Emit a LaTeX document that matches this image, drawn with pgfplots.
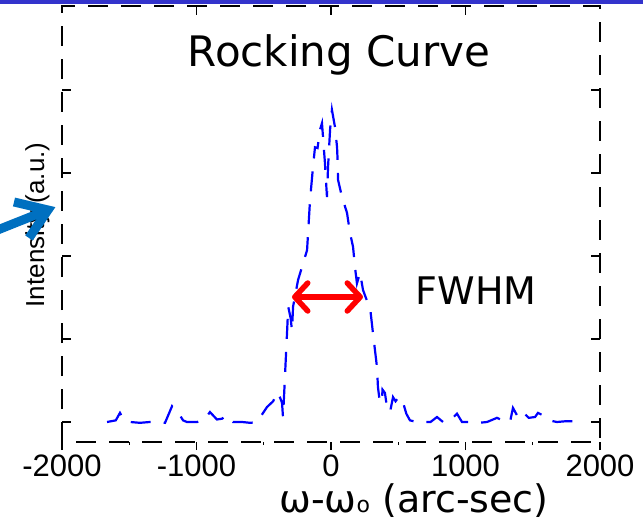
\documentclass[border=0pt]{standalone}
\usepackage{pgfplots}
\pgfplotsset{compat=1.18}
\usepackage{fontspec}
\setmainfont{DejaVu Sans}
\newfontfamily\arialfont{Liberation Sans}
\usetikzlibrary{arrows.meta}
\definecolor{barblue}{RGB}{51,51,204}
\definecolor{callout}{RGB}{0,112,192}
\begin{document}
\begin{tikzpicture}
\path[use as bounding box] (0,0) rectangle (643pt,531pt);
\fill[barblue] (0,527pt) rectangle (643pt,531pt);
\begin{axis}[
  at={(62pt,89pt)}, anchor=south west, scale only axis,
  width=538pt, height=436pt,
  xmin=-2000, xmax=2000, ymin=-0.241, ymax=5.012,
  axis line style={black, line width=1.4pt, dash pattern=on 20pt off 13pt},
  xtick={-1000,0,1000}, xtick pos=top, xticklabels={},
  ytick={0,1,2,3,4}, yticklabels={}, ytick pos=both,
  tick align=inside, major tick length=9pt,
  tick style={line width=1.4pt, black},
  clip=false]
\addplot[color={rgb,255:red,0;green,0;blue,255}, line width=2.2pt, dash pattern=on 20pt off 13pt] coordinates {
(-1665,0.00) (-1600,0.02) (-1569,0.11) (-1540,0.02) (-1494,0.00) (-1420,-0.01)
(-1346,0.00) (-1270,0.00) (-1234,-0.01) (-1182,0.19) (-1150,0.12) (-1123,0.08)
(-1100,0.02) (-1071,0.00) (-996,0.00) (-940,0.03) (-900,0.12) (-848,0.03)
(-810,0.04) (-773,0.08) (-729,0.00) (-662,0.00) (-600,-0.01) (-550,0.00)
(-476,0.18) (-430,0.25) (-401,0.36) (-380,0.30) (-364,0.23) (-357,0.06)
(-348,0.35) (-335,0.80) (-327,1.07) (-318,1.39) (-300,1.25) (-290,1.10)
(-282,1.39) (-245,1.71) (-178,2.07) (-156,2.67) (-134,3.07) (-119,3.31)
(-100,3.30) (-82,3.52) (-67,3.60) (-45,3.12) (-30,2.71) (-22,3.07)
(-7,3.52) (7,3.76) (30,3.55) (45,3.31) (50,3.12) (52,2.92)
(82,2.71) (119,2.52) (141,2.28) (164,2.11) (178,1.87) (193,1.67)
(216,1.80) (238,1.59) (270,1.45) (290,1.39) (312,1.07) (342,0.66)
(349,0.42) (364,0.23) (379,0.27) (383,0.39) (401,0.35) (416,0.18)
(439,0.12) (461,0.30) (480,0.25) (498,0.29) (515,0.30) (535,0.24)
(560,0.10) (587,0.02) (639,0.00) (684,0.00) (740,0.00) (788,0.06)
(833,0.00) (880,0.01) (937,0.10) (974,0.00) (1033,0.00) (1100,-0.01)
(1160,0.00) (1234,0.05) (1290,0.01) (1331,0.00) (1353,0.17) (1390,0.06)
(1427,0.12) (1470,0.05) (1517,0.06) (1539,0.11) (1576,0.08) (1620,0.02)
(1680,0.00) (1750,0.01) (1814,0.01)
};
\end{axis}
\begin{axis}[
  at={(62pt,89pt)}, anchor=south west, scale only axis,
  width=538pt, height=436pt,
  xmin=-2000, xmax=2000, ymin=-0.241, ymax=5.012,
  axis line style={draw=none},
  xtick={-2000,-1000,0,1000,2000}, xtick pos=bottom,
  xticklabels={-2000,-1000,0,1000,2000},
  minor x tick num=1,
  ytick=\empty,
  tick align=outside, major tick length=8pt, minor tick length=3pt,
  tick style={line width=1.4pt, black},
  xticklabel style={font=\arialfont\fontsize{31}{31}\selectfont, anchor=base, yshift=-26pt}]
\end{axis}
\node[anchor=base, font=\fontsize{42}{42}\selectfont] at (339pt,464pt) {Rocking Curve};
\node[anchor=base, font=\fontsize{38}{38}\selectfont] at (476pt,226pt) {FWHM};
\node[anchor=base, font=\fontsize{38}{38}\selectfont] at (414pt,19pt) {ω-ω{\fontsize{22}{22}\selectfont o} (arc-sec)};
\node[rotate=90, font=\arialfont\fontsize{26}{26}\selectfont] at (37.5pt,306pt) {Intensity (a.u.)};
\draw[callout, line width=9pt] (-5pt,300pt) -- (44pt,319.5pt);
\draw[callout, line width=9pt, line join=miter] (14pt,329pt) -- (48pt,321pt) -- (29pt,293pt);
\draw[red, line width=5.5pt, line cap=round, {Straight Barb[length=13pt,width=28pt,round]}-{Straight Barb[length=13pt,width=28pt,round]}] (292pt,234pt) -- (363pt,234pt);
\end{tikzpicture}
\end{document}
